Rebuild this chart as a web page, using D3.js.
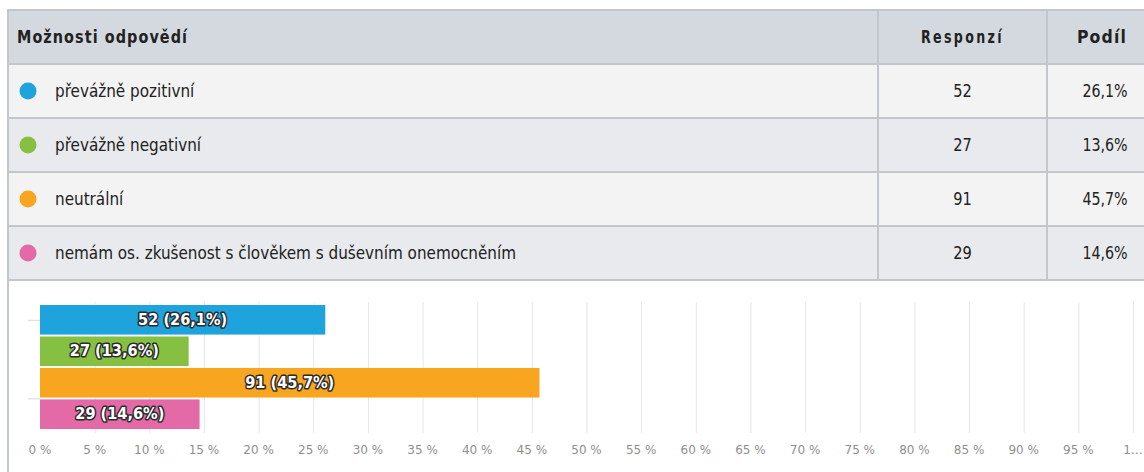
<!DOCTYPE html>
<html>
<head>
<meta charset="utf-8">
<script src="https://cdn.jsdelivr.net/npm/d3@7"></script>
<style>
  html, body { margin: 0; padding: 0; background: #ffffff; }
  svg { display: block; }
  .narrow { font-family: "DejaVu Sans Condensed", "DejaVu Sans", sans-serif; }
</style>
</head>
<body>
<svg id="chart" width="1144" height="472"></svg>
<script>
// Answer options, counts and shares
const categories = [
  "převážně pozitivní",
  "převážně negativní",
  "neutrální",
  "nemám os. zkušenost s člověkem s duševním onemocněním"
];
const responses = [52, 27, 91, 29];
const shares = [26.1, 13.6, 45.7, 14.6];
const colors = ["#1fa3dd", "#86c043", "#f8a520", "#e36aa7"];
const headers = ["Možnosti odpovědí", "Responzí", "Podíl"];
const xTicks = [0, 5, 10, 15, 20, 25, 30, 35, 40, 45, 50, 55, 60, 65, 70, 75, 80, 85, 90, 95, 100];

const fmt = v => v.toFixed(1).replace(".", ",");

const svg = d3.select("#chart");

// text drawn in a horizontally squeezed group to get a narrow face
function narrowText(parent, x, y, str, opts) {
  const sx = opts.sx || 0.93;
  const g = parent.append("g").attr("transform", `translate(${x},${y}) scale(${sx},1)`);
  const t = g.append("text").attr("class", "narrow")
    .attr("x", 0).attr("y", 0).attr("dy", "0.35em")
    .attr("font-size", opts.size || 18)
    .attr("font-weight", opts.weight || "normal")
    .attr("letter-spacing", opts.spacing || 0)
    .attr("text-anchor", opts.anchor || "start")
    .attr("fill", opts.fill || "#222")
    .text(str);
  return t;
}

// ---------- table ----------
const tableLeft = 8, tableTop = 10, rowH = 54;
const colEdges = [8, 878, 1047, 1162];
const rowFills = ["#f3f3f3", "#e8eaed"];

const rows = [null].concat(categories.map((c, i) => i));
const tbl = svg.append("g");

rows.forEach((r, ri) => {
  const y = tableTop + ri * rowH;
  tbl.append("rect")
    .attr("x", tableLeft).attr("y", y)
    .attr("width", colEdges[3] - tableLeft).attr("height", rowH)
    .attr("fill", ri === 0 ? "#d4d9df" : rowFills[(ri - 1) % 2]);
});

// horizontal borders
d3.range(rows.length + 1).forEach(i => {
  tbl.append("line")
    .attr("x1", tableLeft).attr("x2", colEdges[3])
    .attr("y1", tableTop + i * rowH).attr("y2", tableTop + i * rowH)
    .attr("stroke", "#c3c7cb").attr("stroke-width", 2);
});
// vertical borders
[colEdges[1], colEdges[2]].forEach(x => {
  tbl.append("line")
    .attr("x1", x).attr("x2", x)
    .attr("y1", tableTop).attr("y2", tableTop + rows.length * rowH)
    .attr("stroke", "#c3c7cb").attr("stroke-width", 2);
});
// outer left edge runs down the whole panel
tbl.append("line")
  .attr("x1", tableLeft).attr("x2", tableLeft)
  .attr("y1", tableTop - 1).attr("y2", 472)
  .attr("stroke", "#c3c7cb").attr("stroke-width", 2);

// header text
const headY = tableTop + rowH / 2;
narrowText(tbl, 17, headY, headers[0], { weight: "bold", spacing: 1.2, sx: 0.89 });
narrowText(tbl, (colEdges[1] + colEdges[2]) / 2, headY, headers[1], { weight: "bold", spacing: 3, sx: 0.78, anchor: "middle" });
narrowText(tbl, 1102, headY, headers[2], { weight: "bold", spacing: 1.2, sx: 0.97, anchor: "middle" });

// body rows
categories.forEach((c, i) => {
  const cy = tableTop + (i + 1) * rowH + rowH / 2;
  tbl.append("circle").attr("cx", 28).attr("cy", cy).attr("r", 8.5).attr("fill", colors[i]);
  narrowText(tbl, 55, cy, c, { sx: 0.94 });
  narrowText(tbl, (colEdges[1] + colEdges[2]) / 2, cy, responses[i], { sx: 0.9, anchor: "middle" });
  narrowText(tbl, 1105, cy, fmt(shares[i]) + "%", { sx: 0.88, anchor: "middle" });
});

// ---------- bar chart ----------
const x = d3.scaleLinear().domain([0, 100]).range([40, 1133]);
const y = d3.scaleBand().domain(d3.range(categories.length)).range([305, 429]).paddingInner(0.06);
const plotTop = 302, plotBottom = 433;

const chart = svg.append("g");

// vertical grid
chart.selectAll("line.grid").data(xTicks.filter(t => t > 0)).join("line")
  .attr("class", "grid")
  .attr("x1", d => x(d) + 0.5).attr("x2", d => x(d) + 0.5)
  .attr("y1", plotTop).attr("y2", plotBottom)
  .attr("stroke", "#e6e6e6").attr("stroke-width", 1);

// small category ticks on the left
[y(0) + y.bandwidth() / 2, y(3) - 1].forEach(ty => {
  chart.append("line")
    .attr("x1", 28).attr("x2", x(0))
    .attr("y1", ty + 0.5).attr("y2", ty + 0.5)
    .attr("stroke", "#d8d8d8").attr("stroke-width", 1);
});

// bars
chart.selectAll("rect.bar").data(shares).join("rect")
  .attr("class", "bar")
  .attr("x", x(0))
  .attr("y", (d, i) => y(i))
  .attr("width", d => x(d) - x(0))
  .attr("height", y.bandwidth())
  .attr("fill", (d, i) => colors[i]);

// value labels with dark halo
shares.forEach((d, i) => {
  const t = narrowText(chart, (x(0) + x(d)) / 2, y(i) + y.bandwidth() / 2 - 1,
    `${responses[i]} (${fmt(d)}%)`, { size: 16.5, weight: "bold", sx: 0.98, anchor: "middle", fill: "#ffffff" });
  t.attr("stroke", "#2b2b2b").attr("stroke-width", 3).attr("stroke-linejoin", "round")
   .attr("paint-order", "stroke");
});

// x axis labels
chart.selectAll("text.tick").data(xTicks).join("text")
  .attr("class", "tick")
  .attr("x", d => x(d))
  .attr("y", 450).attr("dy", "0.35em")
  .attr("text-anchor", "middle")
  .attr("font-family", "DejaVu Sans, sans-serif")
  .attr("font-size", 12).attr("fill", "#8f8f8f")
  .text(d => d === 100 ? "1…" : d + " %");
</script>
</body>
</html>
